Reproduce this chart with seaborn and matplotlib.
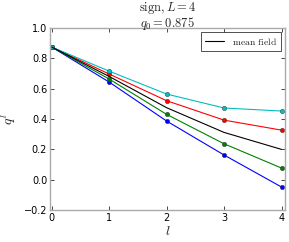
import matplotlib
matplotlib.use("Agg")
import matplotlib.pyplot as plt
import matplotlib.transforms as mtransforms
import seaborn as sns
import pandas as pd
import numpy as np

layers = [0, 1, 2, 3, 4]
q_blue = [0.875, 0.644, 0.387, 0.163, -0.048]
q_green = [0.875, 0.664, 0.431, 0.237, 0.077]
q_red = [0.875, 0.697, 0.521, 0.393, 0.327]
q_cyan = [0.875, 0.716, 0.565, 0.473, 0.453]
q_mean_field = [0.875, 0.681, 0.475, 0.312, 0.200]

sns.set_style("white")
plt.rcParams["mathtext.fontset"] = "cm"
plt.rcParams["font.family"] = ["DejaVu Sans"]

fig, ax = plt.subplots(figsize=(2.89, 2.42), dpi=100)
fig.subplots_adjust(left=0.173, right=0.986, top=0.884, bottom=0.132)

series = [("b", q_blue, "#0000ff"), ("g", q_green, "#008000"),
          ("r", q_red, "#ff0000"), ("c", q_cyan, "#00bfbf")]
for name, vals, col in series:
    df = pd.DataFrame({"l": layers, "q": vals})
    sns.lineplot(data=df, x="l", y="q", ax=ax, color=col, lw=0.8,
                 marker="o", markersize=3.2, markeredgecolor="#333333",
                 markeredgewidth=0.3, legend=False)

dfm = pd.DataFrame({"l": layers, "q": q_mean_field})
sns.lineplot(data=dfm, x="l", y="q", ax=ax, color="black", lw=0.8,
             label="mean field")

ax.set_xlim(-0.03, 4.06)
ax.set_ylim(-0.2, 1.0)
ax.set_xticks([0, 1, 2, 3, 4])
ax.set_yticks([-0.2, 0.0, 0.2, 0.4, 0.6, 0.8, 1.0])
ax.tick_params(direction="in", length=3, width=0.5, labelsize=7, pad=2,
               top=True, right=True, bottom=True, left=True, colors="black")
for s in ax.spines.values():
    s.set_color("#aaaaaa")
    s.set_linewidth(1.0)
ax.set_xlabel(r"$l$", fontsize=10, labelpad=1)
ax.set_ylabel(r"$q^l$", fontsize=10, labelpad=4)
ax.set_title(r"$q_0=0.875$", fontsize=9, pad=0.5)
ax.text(0.5, 1.0, r"$\mathrm{sign},L=4$", ha="center", va="bottom",
        fontsize=9,
        transform=mtransforms.offset_copy(ax.transAxes, fig=fig, x=0, y=12.5,
                                          units="dots"))
leg = ax.legend(loc="upper right", fontsize=7, frameon=True, fancybox=False,
                handlelength=2.0, borderpad=0.4, borderaxespad=0.4)
leg.get_frame().set_edgecolor("black")
leg.get_frame().set_linewidth(0.6)
for t in leg.get_texts():
    t.set_text(r"$\mathrm{mean\ field}$")
leg.get_lines()[0].set_linewidth(0.8)

fig.savefig("out.png", dpi=100)
